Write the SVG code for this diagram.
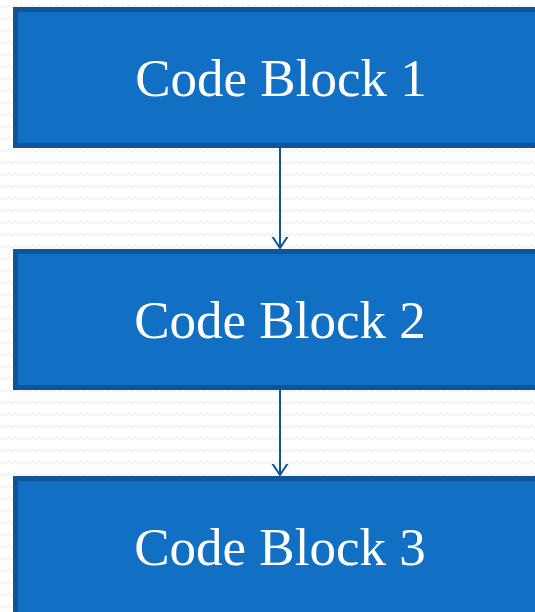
<svg xmlns="http://www.w3.org/2000/svg" width="535" height="612" viewBox="0 0 535 612">
<style>
.box{fill:#116FC4;stroke:#0E5497;stroke-width:5}
.lbl{fill:#FFFFFF;font-family:"Liberation Serif",serif;font-size:53px;text-anchor:middle}
.conn{stroke:#0E5497;stroke-width:2;fill:none}
</style>
<defs>
<pattern id="zz" width="12" height="12" patternUnits="userSpaceOnUse">
<path d="M0 8 L3 5 L6 8 L9 5 L12 8" fill="none" stroke="#EDEDED" stroke-width="1.2"/>
</pattern>
<marker id="arr" markerWidth="24" markerHeight="20" refX="11" refY="10" orient="auto" markerUnits="userSpaceOnUse">
<path d="M-4 0 L11 10 L-4 20" fill="none" stroke="#0E5497" stroke-width="2"/>
</marker>
</defs>
<rect width="535" height="612" fill="#FFFFFF"/>
<rect width="535" height="612" fill="url(#zz)"/>
<g id="connectors">
<line class="conn" x1="280" y1="148" x2="280" y2="248" marker-end="url(#arr)"/>
<line class="conn" x1="280" y1="390" x2="280" y2="475" marker-end="url(#arr)"/>
</g>
<g id="node1">
<rect class="box" x="15.5" y="9.5" width="540" height="136"/>
<text class="lbl" x="281" y="96">Code Block 1</text>
</g>
<g id="node2">
<rect class="box" x="15.5" y="251.5" width="540" height="136"/>
<text class="lbl" x="280" y="338">Code Block 2</text>
</g>
<g id="node3">
<rect class="box" x="15.5" y="478.5" width="540" height="160"/>
<text class="lbl" x="280" y="565">Code Block 3</text>
</g>
</svg>
